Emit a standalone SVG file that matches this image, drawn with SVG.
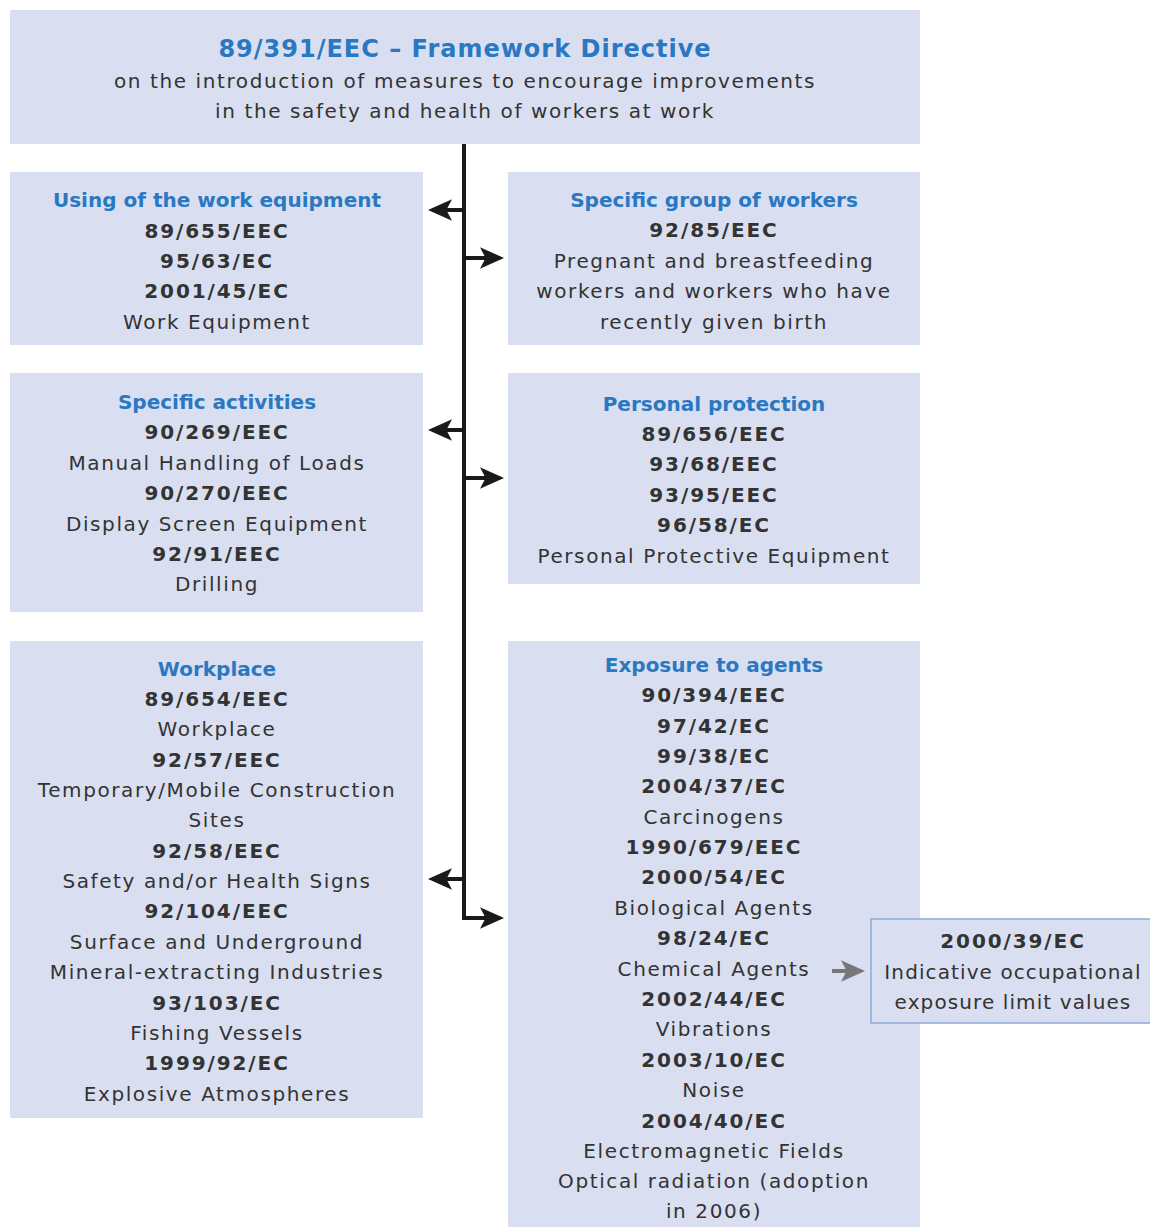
<svg xmlns="http://www.w3.org/2000/svg" width="1150" height="1227" viewBox="0 0 1150 1227">
<style>
.box{fill:#d9dff0}
.t{font-family:"DejaVu Sans","Liberation Sans",Arial,sans-serif;font-size:20px;fill:#333;text-anchor:middle;letter-spacing:1.6px}
.b{font-weight:bold;letter-spacing:1.9px}
.h{fill:#2a78c2;font-weight:bold;letter-spacing:0px}
.big{font-size:24px;letter-spacing:1px}
.conn{stroke:#1a1a1a;stroke-width:4;fill:none}
</style>
<defs>
<marker id="ah" markerWidth="6" markerHeight="6" refX="5" refY="3" orient="auto" markerUnits="strokeWidth"><path d="M0,0.3 L6,3 L0,5.7 L1.4,3 Z" fill="#1a1a1a"/></marker>
<marker id="ag" markerWidth="6" markerHeight="6" refX="5" refY="3" orient="auto" markerUnits="strokeWidth"><path d="M0,0.3 L6,3 L0,5.7 L1.4,3 Z" fill="#777"/></marker>
</defs>
<g id="framework">
<rect class="box" x="10" y="10" width="910" height="134"/>
<text class="t h big" x="465" y="57">89/391/EEC – Framework Directive</text>
<text class="t" x="465" y="88">on the introduction of measures to encourage improvements</text>
<text class="t" x="465" y="118">in the safety and health of workers at work</text>
</g>
<g id="work-equipment">
<rect class="box" x="10" y="172" width="413" height="173"/>
<text class="t h" x="217" y="207">Using of the work equipment</text>
<text class="t b" x="217" y="238">89/655/EEC</text>
<text class="t b" x="217" y="268">95/63/EC</text>
<text class="t b" x="217" y="298">2001/45/EC</text>
<text class="t" x="217" y="329">Work Equipment</text>
</g>
<g id="specific-group">
<rect class="box" x="508" y="172" width="412" height="173"/>
<text class="t h" x="714" y="207">Specific group of workers</text>
<text class="t b" x="714" y="237">92/85/EEC</text>
<text class="t" x="714" y="268">Pregnant and breastfeeding</text>
<text class="t" x="714" y="298">workers and workers who have</text>
<text class="t" x="714" y="329">recently given birth</text>
</g>
<g id="specific-activities">
<rect class="box" x="10" y="373" width="413" height="239"/>
<text class="t h" x="217" y="409">Specific activities</text>
<text class="t b" x="217" y="439">90/269/EEC</text>
<text class="t" x="217" y="470">Manual Handling of Loads</text>
<text class="t b" x="217" y="500">90/270/EEC</text>
<text class="t" x="217" y="531">Display Screen Equipment</text>
<text class="t b" x="217" y="561">92/91/EEC</text>
<text class="t" x="217" y="591">Drilling</text>
</g>
<g id="personal-protection">
<rect class="box" x="508" y="373" width="412" height="211"/>
<text class="t h" x="714" y="411">Personal protection</text>
<text class="t b" x="714" y="441">89/656/EEC</text>
<text class="t b" x="714" y="471">93/68/EEC</text>
<text class="t b" x="714" y="502">93/95/EEC</text>
<text class="t b" x="714" y="532">96/58/EC</text>
<text class="t" x="714" y="563">Personal Protective Equipment</text>
</g>
<g id="workplace">
<rect class="box" x="10" y="641" width="413" height="477"/>
<text class="t h" x="217" y="676">Workplace</text>
<text class="t b" x="217" y="706">89/654/EEC</text>
<text class="t" x="217" y="736">Workplace</text>
<text class="t b" x="217" y="767">92/57/EEC</text>
<text class="t" x="217" y="797">Temporary/Mobile Construction</text>
<text class="t" x="217" y="827">Sites</text>
<text class="t b" x="217" y="858">92/58/EEC</text>
<text class="t" x="217" y="888">Safety and/or Health Signs</text>
<text class="t b" x="217" y="918">92/104/EEC</text>
<text class="t" x="217" y="949">Surface and Underground</text>
<text class="t" x="217" y="979">Mineral-extracting Industries</text>
<text class="t b" x="217" y="1010">93/103/EC</text>
<text class="t" x="217" y="1040">Fishing Vessels</text>
<text class="t b" x="217" y="1070">1999/92/EC</text>
<text class="t" x="217" y="1101">Explosive Atmospheres</text>
</g>
<g id="exposure">
<rect class="box" x="508" y="641" width="412" height="586"/>
<text class="t h" x="714" y="672">Exposure to agents</text>
<text class="t b" x="714" y="702">90/394/EEC</text>
<text class="t b" x="714" y="733">97/42/EC</text>
<text class="t b" x="714" y="763">99/38/EC</text>
<text class="t b" x="714" y="793">2004/37/EC</text>
<text class="t" x="714" y="824">Carcinogens</text>
<text class="t b" x="714" y="854">1990/679/EEC</text>
<text class="t b" x="714" y="884">2000/54/EC</text>
<text class="t" x="714" y="915">Biological Agents</text>
<text class="t b" x="714" y="945">98/24/EC</text>
<text class="t" x="714" y="976">Chemical Agents</text>
<text class="t b" x="714" y="1006">2002/44/EC</text>
<text class="t" x="714" y="1036">Vibrations</text>
<text class="t b" x="714" y="1067">2003/10/EC</text>
<text class="t" x="714" y="1097">Noise</text>
<text class="t b" x="714" y="1128">2004/40/EC</text>
<text class="t" x="714" y="1158">Electromagnetic Fields</text>
<text class="t" x="714" y="1188">Optical radiation (adoption</text>
<text class="t" x="714" y="1218">in 2006)</text>
</g>
<g id="limit-values">
<rect class="box" x="871" y="919" width="280" height="104" stroke="#8fa8d8" stroke-width="1.5"/>
<text class="t b" x="1013" y="948">2000/39/EC</text>
<text class="t" x="1013" y="979" style="letter-spacing:1.1px">Indicative occupational</text>
<text class="t" x="1013" y="1009" style="letter-spacing:1.1px">exposure limit values</text>
</g>
<g id="connectors">
<path class="conn" d="M464,144 V920"/>
<path class="conn" d="M464,210 H432" marker-end="url(#ah)"/>
<path class="conn" d="M464,430 H432" marker-end="url(#ah)"/>
<path class="conn" d="M464,879 H432" marker-end="url(#ah)"/>
<path class="conn" d="M464,258 H500" marker-end="url(#ah)"/>
<path class="conn" d="M464,478 H500" marker-end="url(#ah)"/>
<path class="conn" d="M462,918 H500" marker-end="url(#ah)"/>
<path d="M832,971 H861" stroke="#777" stroke-width="4" marker-end="url(#ag)"/>
</g>
</svg>
